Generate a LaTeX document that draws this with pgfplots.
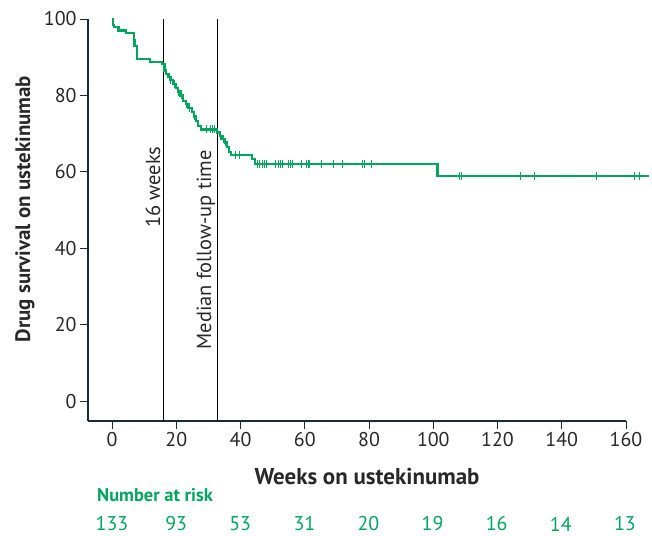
\documentclass[border=0pt]{standalone}
\usepackage{fontspec}
\setmainfont{PT Sans}
\usepackage{pgfplots}
\pgfplotsset{compat=1.18}
\definecolor{kmgreen}{RGB}{0,166,94}
\definecolor{axcol}{RGB}{28,40,52}
\definecolor{txt}{RGB}{40,40,40}
\begin{document}
\begin{tikzpicture}[x=1bp,y=1bp]
\path[use as bounding box] (-88,-115) rectangle (564,421);
\begin{axis}[
  at={(0,0)}, anchor=south west,
  scale only axis, width=538bp, height=402bp,
  xmin=-7.5, xmax=160, ymin=-5.2, ymax=100,
  axis x line*=bottom, axis y line*=left,
  axis line style={axcol, line width=2bp, -},
  xtick={0,20,...,160}, ytick={0,20,...,100},
  tick style={axcol, line width=0.8bp},
  tick align=outside, major tick length=8bp,
  ticklabel style={font=\fontsize{20}{24}\selectfont, text=txt},
  /pgf/number format/assume math mode=true,
  clip=false,
]
\draw[black, line width=0.8bp] (axis cs:16,-5.2) -- (axis cs:16,100);
\draw[black, line width=0.8bp] (axis cs:32.8,-5.2) -- (axis cs:32.8,100);
\node[rotate=90, anchor=south, inner sep=3bp, text=txt, font=\fontsize{20.5}{24}\selectfont] at (axis cs:16,56) {16 weeks};
\node[rotate=90, anchor=south, inner sep=2bp, text=txt, font=\fontsize{20.5}{24}\selectfont] at (axis cs:32.8,39.6) {Median follow-up time};
\addplot[kmgreen, line width=2.2bp, const plot] coordinates {
(0,100) (0.3,98.5) (0.5,97.8) (2,97.0) (4.4,96.3) (6.7,94.5) (7.0,93.0) (7.7,89.5)
(11.9,88.8) (15.5,88.2) (16.3,86.5) (16.8,85.6) (17.5,84.8) (18.2,84.0) (19.0,82.9)
(19.8,82.0) (20.5,81.0) (21.3,80.0) (22.1,78.6) (22.9,77.8) (23.8,76.8) (24.8,75.6)
(25.5,74.5) (26.2,73.3) (26.8,72.0) (27.8,71.1) (32.6,70.3) (33.5,69.4) (34.3,68.6)
(35.2,67.7) (35.7,66.5) (36.3,65.1) (37.0,64.5) (43.5,63.3) (44.6,62.0) (101.3,58.9)
(167.2,58.9)
};
\addplot[kmgreen, only marks, mark=|, mark size=4bp, mark options={line width=0.9bp}] coordinates {
(16.5,86.5) (17.8,84.8) (18.3,84.0) (19.4,82.9) (20.8,81.0) (21.5,80.0) (23.2,77.8)
(24.2,76.8) (25.6,74.5) (29.5,71.1) (30.5,71.1) (31.2,71.1) (32.0,71.1) (33.8,69.4)
(34.6,68.6) (35.3,67.7) (38.4,64.5) (39.7,64.5)
(45.1,62.0) (45.8,62.0) (46.7,62.0) (47.5,62.0) (48.2,62.0) (51.0,62.0) (51.7,62.0)
(52.4,62.0) (53.1,62.0) (54.8,62.0) (55.5,62.0) (56.2,62.0) (59.0,62.0) (60.5,62.0)
(61.0,62.0) (61.5,62.0) (65.2,62.0) (69.0,62.0) (71.7,62.0) (77.9,62.0) (78.7,62.0)
(80.7,62.0)
(108.0,58.9) (108.9,58.9) (127.0,58.9) (131.6,58.9) (150.9,58.9) (162.5,58.9) (164.3,58.9)
};
\end{axis}
\node[rotate=90, text=txt, font=\bfseries\fontsize{21}{25}\selectfont] at (-63,212) {Drug survival on ustekinumab};
\node[text=txt, font=\bfseries\fontsize{23}{27}\selectfont] at (279,-56) {Weeks on ustekinumab};
\node[anchor=west, inner sep=0pt, text=kmgreen, font=\bfseries\fontsize{18.5}{22}\selectfont] at (9,-74) {Number at risk};
\foreach \xp/\n in {0/133,20/93,40/53,60/31,80/20,100/19,120/16,140/14,160/13}{
  \node[inner sep=0pt, text=kmgreen, font=\fontsize{20}{24}\selectfont] at ({24+\xp*3.206},-103) {\n};
}
\end{tikzpicture}
\end{document}
